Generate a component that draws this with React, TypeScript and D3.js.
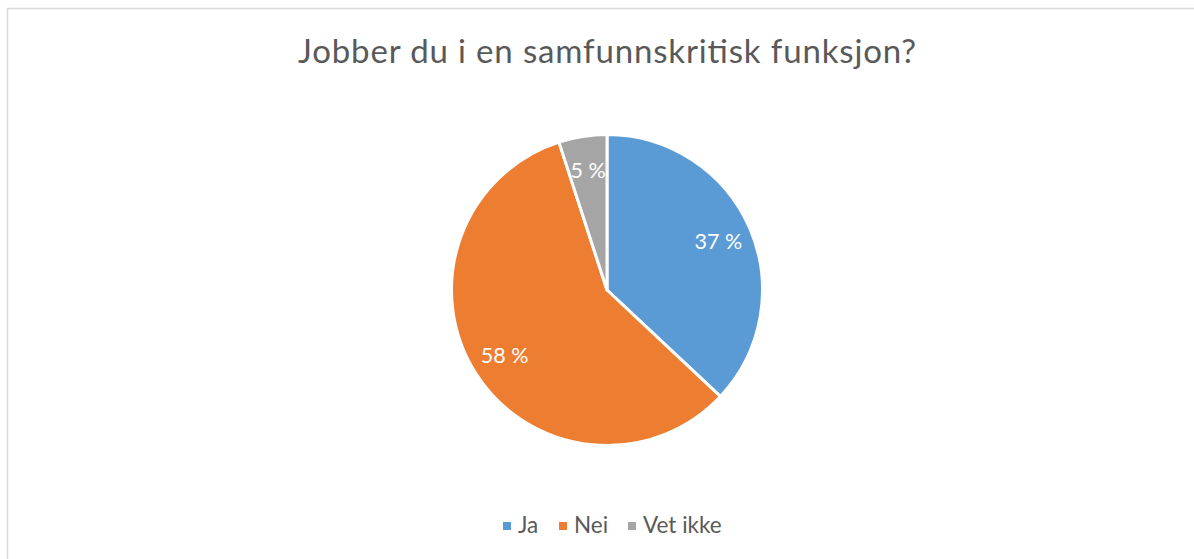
import React from "react";
import * as d3 from "d3";

const categories = ["Ja", "Nei", "Vet ikke"];
const values = [37, 58, 5];
const labels = ["37 %", "58 %", "5 %"];
const colors = ["#5B9BD5", "#ED7D31", "#A5A5A5"];
const title = "Jobber du i en samfunnskritisk funksjon?";

const W = 1194;
const H = 559;
const cx = 607;
const cy = 290;
const R = 155.5;
const FONT = "Lato, 'Open Sans', sans-serif";

export default function App() {
  const pie = d3.pie<number>().sort(null).value((d) => d)(values);
  const arc = d3.arc<d3.PieArcDatum<number>>().innerRadius(0).outerRadius(R);
  const labelArc = d3.arc<d3.PieArcDatum<number>>().innerRadius(R * 0.78).outerRadius(R * 0.78);

  const legendX = [503, 559, 628];

  return (
    <div style={{ position: "absolute", left: 0, top: 0 }}>
      <svg width={W} height={H} style={{ display: "block", background: "#fff" }}>
        <rect x={7.5} y={8.5} width={1200} height={600} fill="#fff" stroke="#d9d9d9" strokeWidth={1.5} />
        <text x={607} y={63} textAnchor="middle" fontFamily={FONT} fontSize={33} fill="#595959"
          textLength={618} lengthAdjust="spacing">
          {title}
        </text>
        <g transform={`translate(${cx},${cy})`}>
          {pie.map((p, i) => (
            <path key={i} d={arc(p) || ""} fill={colors[i]} stroke="#fff" strokeWidth={3} strokeLinejoin="round" />
          ))}
          {pie.map((p, i) => {
            const [x, y] = labelArc.centroid(p);
            return (
              <text key={i} x={x} y={y} dy="0.35em" textAnchor="middle" fontFamily={FONT} fontSize={21.5} fill="#fff">
                {labels[i]}
              </text>
            );
          })}
        </g>
        {categories.map((c, i) => (
          <g key={c} transform={`translate(${legendX[i]},0)`}>
            <rect x={0} y={522} width={8} height={8} fill={colors[i]} />
            <text x={15} y={533} fontFamily={FONT} fontSize={22.5} fill="#595959">
              {c}
            </text>
          </g>
        ))}
      </svg>
    </div>
  );
}
